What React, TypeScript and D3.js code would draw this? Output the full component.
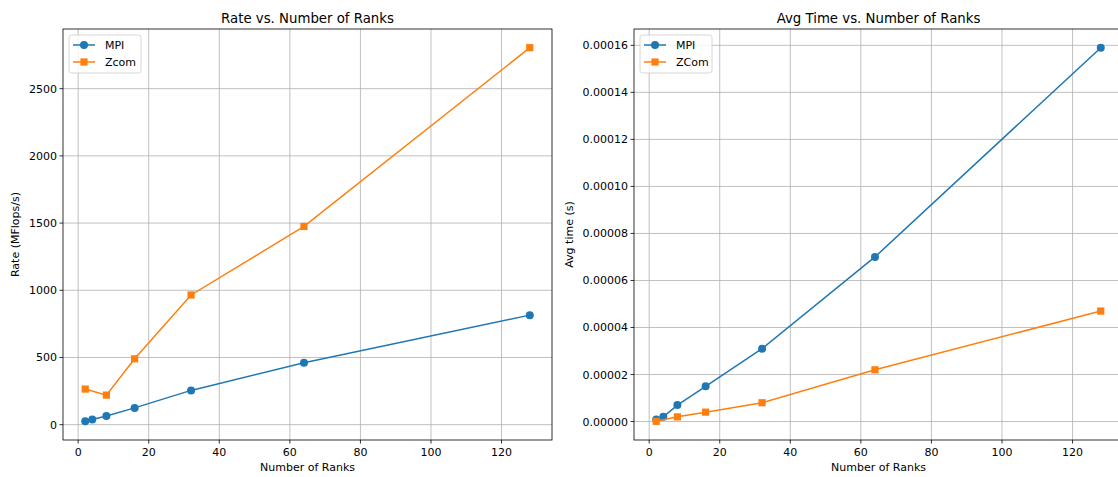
import React from "react";
import * as d3 from "d3";

const mpiRanks = [2, 4, 8, 16, 32, 64, 128];
const zcomRanks = [2, 8, 16, 32, 64, 128];
const mpiRate = [25, 38, 65, 125, 255, 460, 815];
const zcomRate = [265, 220, 490, 965, 1475, 2805];
const mpiTime = [0.0000009, 0.000002, 0.000007, 0.000015, 0.000031, 0.00007, 0.000159];
const zcomTime = [0.0000001, 0.000002, 0.000004, 0.000008, 0.000022, 0.000047];
const xTicks = [0, 20, 40, 60, 80, 100, 120];
const rateTicks = [0, 500, 1000, 1500, 2000, 2500];
const timeTicks = [0, 0.00002, 0.00004, 0.00006, 0.00008, 0.0001, 0.00012, 0.00014, 0.00016];
const seriesNames = ["MPI", "Zcom"];
const rightSeriesNames = ["MPI", "ZCom"];

const BLUE = "#1f77b4";
const ORANGE = "#ff7f0e";
const FONT = "DejaVu Sans, sans-serif";

type PanelProps = {
  left: number;
  right: number;
  top: number;
  bottom: number;
  title: string;
  ylabel: string;
  ylabelX: number;
  yTicks: number[];
  yFmt: (v: number) => string;
  mpi: number[];
  zcom: number[];
  names: string[];
};

function Panel(p: PanelProps) {
  const allY = [...p.mpi, ...p.zcom];
  const yMin = d3.min(allY)!;
  const yMax = d3.max(allY)!;
  const yPad = (yMax - yMin) * 0.05;
  const xPad = (128 - 2) * 0.05;
  const x = d3.scaleLinear().domain([2 - xPad, 128 + xPad]).range([p.left, p.right]);
  const y = d3.scaleLinear().domain([yMin - yPad, yMax + yPad]).range([p.bottom, p.top]);
  const line = d3.line<[number, number]>().x((d) => x(d[0])).y((d) => y(d[1]));
  const mpiPts: [number, number][] = mpiRanks.map((r, i) => [r, p.mpi[i]]);
  const zPts: [number, number][] = zcomRanks.map((r, i) => [r, p.zcom[i]]);
  const cx = (p.left + p.right) / 2;
  const lx = p.left + 6;
  const ly = p.top + 6;
  return (
    <g fontFamily={FONT}>
      <g>
        {xTicks.map((t) => (
          <line key={"gx" + t} x1={x(t)} x2={x(t)} y1={p.top} y2={p.bottom} stroke="#b0b0b0" strokeWidth={0.8} />
        ))}
        {p.yTicks.map((t) => (
          <line key={"gy" + t} x1={p.left} x2={p.right} y1={y(t)} y2={y(t)} stroke="#b0b0b0" strokeWidth={0.8} />
        ))}
      </g>
      <path d={line(mpiPts)!} fill="none" stroke={BLUE} strokeWidth={1.5} />
      {mpiPts.map((d, i) => (
        <circle key={"m" + i} cx={x(d[0])} cy={y(d[1])} r={4} fill={BLUE} />
      ))}
      <path d={line(zPts)!} fill="none" stroke={ORANGE} strokeWidth={1.5} />
      {zPts.map((d, i) => (
        <rect key={"z" + i} x={x(d[0]) - 3.6} y={y(d[1]) - 3.6} width={7.2} height={7.2} fill={ORANGE} />
      ))}
      <rect x={p.left} y={p.top} width={p.right - p.left} height={p.bottom - p.top} fill="none" stroke="#000" strokeWidth={0.8} />
      {xTicks.map((t) => (
        <g key={"tx" + t}>
          <line x1={x(t)} x2={x(t)} y1={p.bottom} y2={p.bottom + 3.5} stroke="#000" strokeWidth={0.8} />
          <text x={x(t)} y={p.bottom + 15.5} textAnchor="middle" fontSize={11} fill="#000">{t}</text>
        </g>
      ))}
      {p.yTicks.map((t) => (
        <g key={"ty" + t}>
          <line x1={p.left - 3.5} x2={p.left} y1={y(t)} y2={y(t)} stroke="#000" strokeWidth={0.8} />
          <text x={p.left - 6} y={y(t) + 4} textAnchor="end" fontSize={11} fill="#000">{p.yFmt(t)}</text>
        </g>
      ))}
      <text x={cx} y={p.top - 6.5} textAnchor="middle" fontSize={13.3} fill="#000">{p.title}</text>
      <text x={cx} y={p.bottom + 30.5} textAnchor="middle" fontSize={11} fill="#000">Number of Ranks</text>
      <text transform={`translate(${p.ylabelX},${(p.top + p.bottom) / 2}) rotate(-90)`} textAnchor="middle" fontSize={11} fill="#000">{p.ylabel}</text>
      <g>
        <rect x={lx} y={ly} width={72} height={38} rx={2.5} fill="#fff" fillOpacity={0.8} stroke="#cccccc" strokeWidth={0.8} />
        <line x1={lx + 4} x2={lx + 26} y1={ly + 10} y2={ly + 10} stroke={BLUE} strokeWidth={1.5} />
        <circle cx={lx + 15} cy={ly + 10} r={4} fill={BLUE} />
        <text x={lx + 36} y={ly + 14} fontSize={11} fill="#000">{p.names[0]}</text>
        <line x1={lx + 4} x2={lx + 26} y1={ly + 27} y2={ly + 27} stroke={ORANGE} strokeWidth={1.5} />
        <rect x={lx + 15 - 3.6} y={ly + 27 - 3.6} width={7.2} height={7.2} fill={ORANGE} />
        <text x={lx + 36} y={ly + 31} fontSize={11} fill="#000">{p.names[1]}</text>
      </g>
    </g>
  );
}

export default function App() {
  return (
    <svg width={1118} height={477} style={{ position: "absolute", left: 0, top: 0, background: "#fff" }}>
      <rect width={1118} height={477} fill="#fff" />
      <Panel
        left={63}
        right={552}
        top={29}
        bottom={440}
        title="Rate vs. Number of Ranks"
        ylabel="Rate (MFlops/s)"
        ylabelX={19}
        yTicks={rateTicks}
        yFmt={(v) => String(v)}
        mpi={mpiRate}
        zcom={zcomRate}
        names={seriesNames}
      />
      <Panel
        left={634}
        right={1123}
        top={29}
        bottom={440}
        title="Avg Time vs. Number of Ranks"
        ylabel="Avg time (s)"
        ylabelX={573}
        yTicks={timeTicks}
        yFmt={(v) => v.toFixed(5)}
        mpi={mpiTime}
        zcom={zcomTime}
        names={rightSeriesNames}
      />
    </svg>
  );
}
